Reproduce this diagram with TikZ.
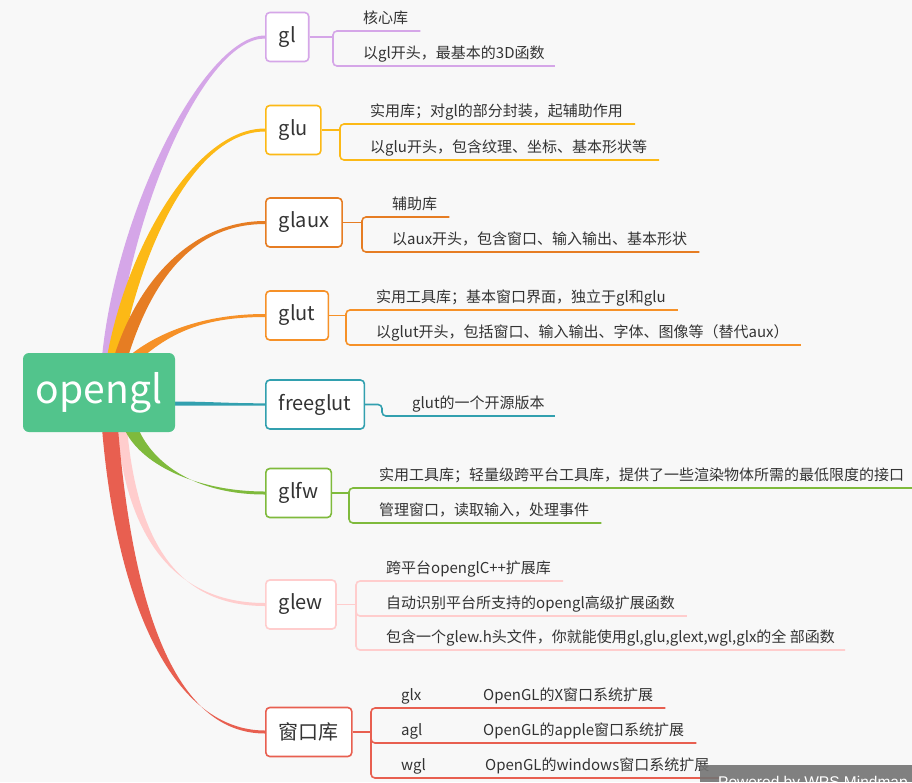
\documentclass[tikz,border=0pt]{standalone}
\usepackage{fontspec}
\setmainfont{Noto Sans CJK SC}
\newfontfamily\wmfont{Liberation Sans}
\usetikzlibrary{backgrounds}
\definecolor{cbg}{RGB}{248,248,248}
\definecolor{croot}{RGB}{82,196,140}
\definecolor{cgl}{RGB}{213,166,232}
\definecolor{cglu}{RGB}{252,185,22}
\definecolor{cglaux}{RGB}{230,125,35}
\definecolor{cglut}{RGB}{246,145,40}
\definecolor{cfg}{RGB}{50,160,175}
\definecolor{cglfw}{RGB}{127,186,60}
\definecolor{cglew}{RGB}{255,205,205}
\definecolor{cwin}{RGB}{232,95,80}
\definecolor{ctxt}{RGB}{51,51,51}
\tikzset{
	root/.style={fill=croot,rounded corners=6pt,minimum width=152pt,minimum height=79pt,text=white,font=\fontsize{39}{39}\selectfont},
	topic/.style={draw=#1,fill=white,line width=1.6pt,rounded corners=4pt,anchor=west,minimum height=49pt,inner xsep=13pt,text=ctxt,font=\fontsize{20}{20}\selectfont},
	item/.style={anchor=base west,inner sep=0pt,text=ctxt,font=\fontsize{15}{15}\selectfont},
	sub/.style={draw=#1,line width=1.6pt,rounded corners=4pt},
	wmark/.style={anchor=base west,inner sep=0pt,text=white,font=\wmfont\fontsize{15.5}{15.5}\selectfont}
}
\begin{document}
\begin{tikzpicture}[x=1pt,y=-1pt]
	\useasboundingbox (0,0) rectangle (912,782);
	%%%root
	\node[root] (root) at (99,392.5) {opengl};

	%%%topics
	\node[topic=cgl] (gl) at (265,37) {gl};
	\node[topic=cglu] (glu) at (265,130) {glu};
	\node[topic=cglaux] (glaux) at (265,222.5) {glaux};
	\node[topic=cglut] (glut) at (265,315.5) {glut};
	\node[topic=cfg] (fg) at (265,404.5) {freeglut};
	\node[topic=cglfw] (glfw) at (265,493) {glfw};
	\node[topic=cglew] (glew) at (265,604.5) {glew};
	\node[topic=cwin] (win) at (265,732) {窗口库};

	%%%items
	\node[item] (gla) at (363,23) {核心库};
	\node[item] (glb) at (363,58) {以gl开头，最基本的3D函数};
	\node[item] (glua) at (370,116) {实用库；对gl的部分封装，起辅助作用};
	\node[item] (glub) at (370,152) {以glu开头，包含纹理、坐标、基本形状等};
	\node[item] (glauxa) at (392,209) {辅助库};
	\node[item] (glauxb) at (392,244) {以aux开头，包含窗口、输入输出、基本形状};
	\node[item] (gluta) at (376,302) {实用工具库；基本窗口界面，独立于gl和glu};
	\node[item] (glutb) at (376,337) {以glut开头，包括窗口、输入输出、字体、图像等（替代aux）};
	\node[item] (fga) at (412,408) {glut的一个开源版本};
	\node[item] (glfwa) at (379,480) {实用工具库；轻量级跨平台工具库，提供了一些渲染物体所需的最低限度的接口};
	\node[item] (glfwb) at (379,515) {管理窗口，读取输入，处理事件};
	\node[item] (glewa) at (386,573) {跨平台openglC++扩展库};
	\node[item] (glewb) at (386,608) {自动识别平台所支持的opengl高级扩展函数};
	\node[item] (glewc) at (386,642) {包含一个glew.h头文件，你就能使用gl,glu,glext,wgl,glx的全 部函数};
	\node[item] (glx) at (401,700) {glx};
	\node[item] (agl) at (401,735) {agl};
	\node[item] (wgl) at (401,770) {wgl};
	\node[item] (glxd) at (483,700) {OpenGL的X窗口系统扩展};
	\node[item] (agld) at (483,735) {OpenGL的apple窗口系统扩展};
	\node[item] (wgld) at (485,770) {OpenGL的windows窗口系统扩展};

	%%%brackets
	\coordinate (gl1) at ([shift={(-30,8)}]gla.base west);
	\coordinate (gl2) at ([shift={(-30,8)}]glb.base west);
	\draw[sub=cgl] (gl.east) -- (gl.east -| gl1);
	\draw[sub=cgl] ([shift={(12,8)}]gla.base east) -- (gl1) -- (gl2) -- ([shift={(10,8)}]glb.base east);

	\coordinate (glu1) at ([shift={(-30,8)}]glua.base west);
	\coordinate (glu2) at ([shift={(-30,8)}]glub.base west);
	\draw[sub=cglu] (glu.east) -- (glu.east -| glu1);
	\draw[sub=cglu] ([shift={(12,8)}]glua.base east) -- (glu1) -- (glu2) -- ([shift={(12,8)}]glub.base east);

	\coordinate (glaux1) at ([shift={(-30,8)}]glauxa.base west);
	\coordinate (glaux2) at ([shift={(-30,8)}]glauxb.base west);
	\draw[sub=cglaux] (glaux.east) -- (glaux.east -| glaux1);
	\draw[sub=cglaux] ([shift={(12,8)}]glauxa.base east) -- (glaux1) -- (glaux2) -- ([shift={(12,8)}]glauxb.base east);

	\coordinate (glut1) at ([shift={(-30,8)}]gluta.base west);
	\coordinate (glut2) at ([shift={(-30,8)}]glutb.base west);
	\draw[sub=cglut] (glut.east) -- (glut.east -| glut1);
	\draw[sub=cglut] ([shift={(12,8)}]gluta.base east) -- (glut1) -- (glut2) -- ([shift={(12,8)}]glutb.base east);

	\coordinate (fg1) at ([shift={(-30,8)}]fga.base west);
	\draw[sub=cfg] (fg.east) -- (fg.east -| fg1) -- (fg1) -- ([shift={(10,8)}]fga.base east);

	\coordinate (glfw1) at ([shift={(-30,8)}]glfwa.base west);
	\coordinate (glfw2) at ([shift={(-30,8)}]glfwb.base west);
	\draw[sub=cglfw] (glfw.east) -- (glfw.east -| glfw1);
	\draw[sub=cglfw] ([shift={(10,8)}]glfwa.base east) -- (glfw1) -- (glfw2) -- ([shift={(12,8)}]glfwb.base east);

	\coordinate (glew1) at ([shift={(-30,8)}]glewa.base west);
	\coordinate (glew2) at ([shift={(-30,8)}]glewb.base west);
	\coordinate (glew3) at ([shift={(-30,8)}]glewc.base west);
	\draw[sub=cglew] (glew.east) -- (glew.east -| glew1);
	\draw[sub=cglew] ([shift={(12,8)}]glewa.base east) -- (glew1) -- (glew3) -- ([shift={(10,8)}]glewc.base east);
	\draw[sub=cglew] ([yshift=8pt]glew2) -- (glew2) -- ([shift={(12,8)}]glewb.base east);

	\coordinate (win1) at ([shift={(-30,8)}]glx.base west);
	\coordinate (win2) at ([shift={(-30,8)}]agl.base west);
	\coordinate (win3) at ([shift={(-30,8)}]wgl.base west);
	\draw[sub=cwin] (win.east) -- (win.east -| win1);
	\draw[sub=cwin] ([shift={(12,8)}]glxd.base east) -- (win1) -- (win3) -- ([shift={(10,8)}]wgld.base east);
	\draw[sub=cwin] ([yshift=8pt]win2) -- (win2) -- ([shift={(12,8)}]agld.base east);

	%%%branches
	\begin{scope}[on background layer]
	\fill[cbg] (0,0) rectangle (912,782);
	\fill[cgl] ([shift={(3,4)}]root.north) .. controls +(15,-150) and +(-60,0) .. ([yshift=1.5pt]gl.west)
		-- ([yshift=-1.5pt]gl.west) .. controls +(-60,0) and +(15,-150) .. ([shift={(17,4)}]root.north) -- cycle;
	\fill[cglu] ([shift={(8,4)}]root.north) .. controls +(20,-110) and +(-70,0) .. ([yshift=1.5pt]glu.west)
		-- ([yshift=-1.5pt]glu.west) .. controls +(-70,0) and +(20,-110) .. ([shift={(22,4)}]root.north) -- cycle;
	\fill[cglaux] ([shift={(15,4)}]root.north) .. controls +(25,-80) and +(-70,0) .. ([yshift=1.5pt]glaux.west)
		-- ([yshift=-1.5pt]glaux.west) .. controls +(-70,0) and +(25,-80) .. ([shift={(29,4)}]root.north) -- cycle;
	\fill[cglut] ([shift={(29,4)}]root.north) .. controls +(30,-25) and +(-60,0) .. ([yshift=1.5pt]glut.west)
		-- ([yshift=-1.5pt]glut.west) .. controls +(-60,0) and +(30,-25) .. ([shift={(44,4)}]root.north) -- cycle;
	\fill[cfg] ([shift={(-4,9)}]root.east) .. controls +(40,0) and +(-40,0) .. ([yshift=1.2pt]fg.west)
		-- ([yshift=-1.2pt]fg.west) .. controls +(-40,0) and +(40,0) .. ([shift={(-4,13)}]root.east) -- cycle;
	\fill[cglew] ([shift={(18,-4)}]root.south) .. controls +(10,110) and +(-90,0) .. ([yshift=1.5pt]glew.west)
		-- ([yshift=-1.5pt]glew.west) .. controls +(-90,0) and +(10,110) .. ([shift={(28,-4)}]root.south) -- cycle;
	\fill[cwin] ([shift={(3,-4)}]root.south) .. controls +(15,180) and +(-90,0) .. ([yshift=1.5pt]win.west)
		-- ([yshift=-1.5pt]win.west) .. controls +(-90,0) and +(15,180) .. ([shift={(19,-4)}]root.south) -- cycle;
	\fill[cglfw] ([shift={(25,-4)}]root.south) .. controls +(15,35) and +(-70,0) .. ([yshift=1.5pt]glfw.west)
		-- ([yshift=-1.5pt]glfw.west) .. controls +(-70,0) and +(15,35) .. ([shift={(39,-4)}]root.south) -- cycle;
	\end{scope}

	%%%watermark
	\fill[black!55,opacity=.9] (700,765) rectangle (912,782);
	\node[wmark] (wm) at (718,787) {Powered by WPS Mindmap};
\end{tikzpicture}
\end{document}
